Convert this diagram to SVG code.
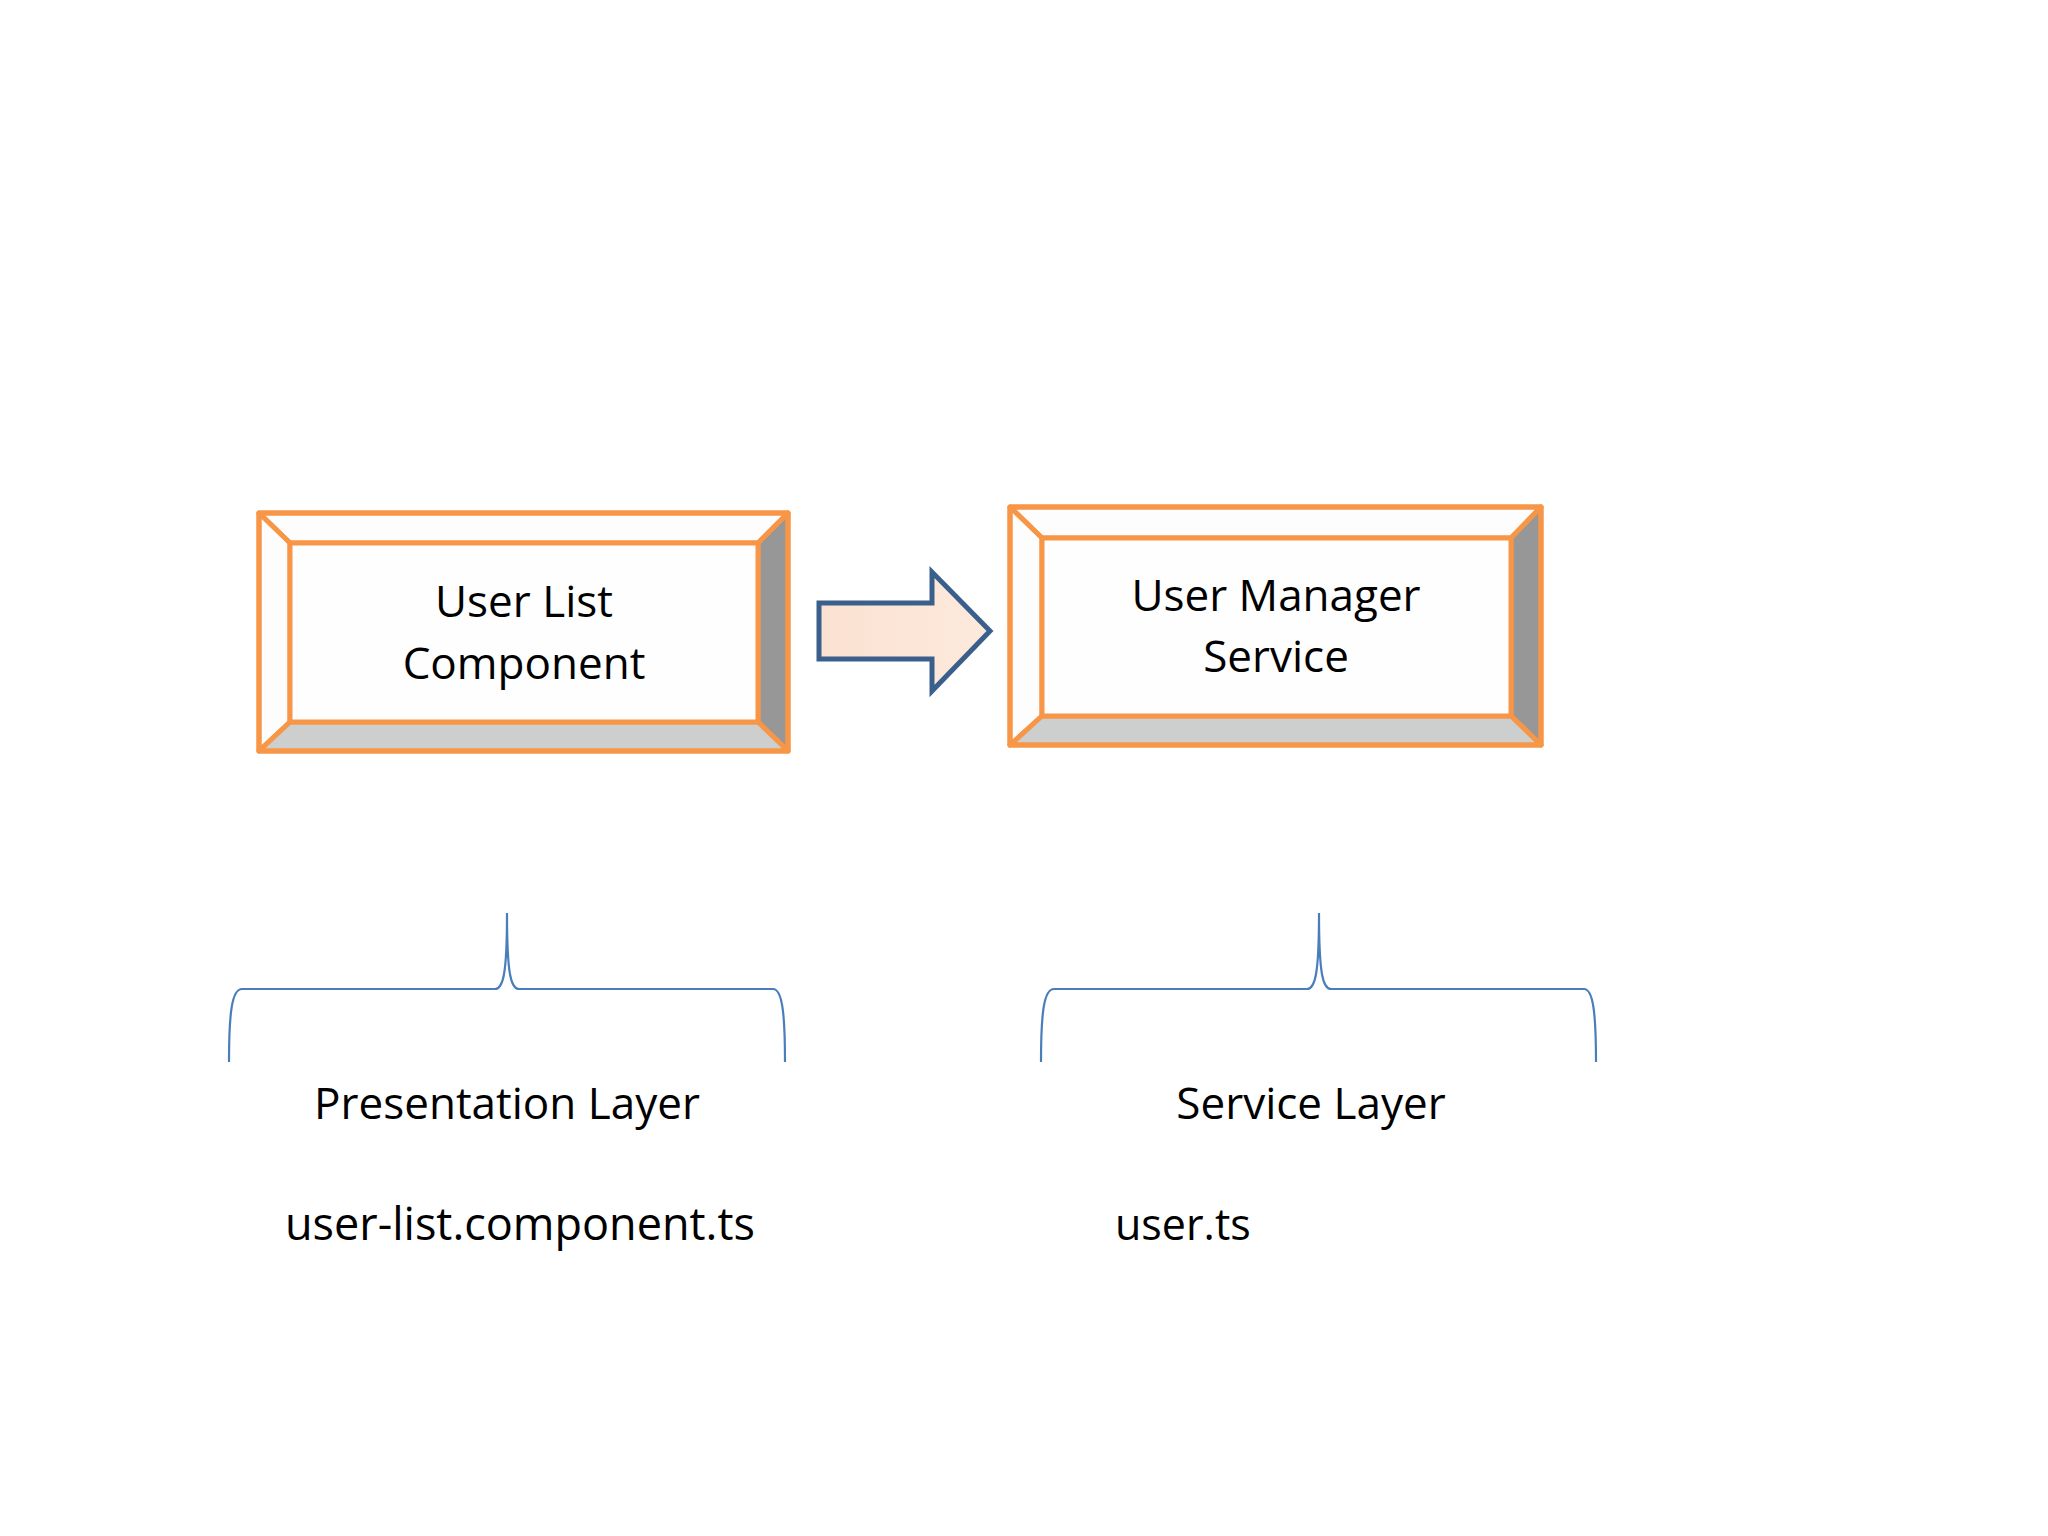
<svg xmlns="http://www.w3.org/2000/svg" width="2048" height="1536" viewBox="0 0 2048 1536">
  <defs>
    <linearGradient id="arrowFill" x1="0" y1="0" x2="1" y2="0">
      <stop offset="0" stop-color="#FBE1D2"/>
      <stop offset="1" stop-color="#FDEADC"/>
    </linearGradient>
    <style>
      .edge { stroke: #F79646; stroke-width: 5; stroke-linejoin: round; }
      .face { fill: #FEFEFE; }
      .lite { fill: #FDFDFD; }
      .dark { fill: #979797; }
      .low { fill: #CDCFCF; }
      .lbl { font-family: "Open Sans", "Noto Sans", sans-serif; font-size: 44px; fill: #000; }
      .brace { fill: none; stroke: #4A7EBB; stroke-width: 2.2; }
    </style>
  </defs>
  <rect width="2048" height="1536" fill="#FFFFFF"/>

  <g id="node-user-list-component">
    <polygon class="lite edge" points="259,513 788,513 758,543 290,543"/>
    <polygon class="lite edge" points="259,513 290,543 290,722 259,751"/>
    <polygon class="dark edge" points="788,513 788,751 758,722 758,543"/>
    <polygon class="low edge" points="259,751 290,722 758,722 788,751"/>
    <rect class="face edge" x="290" y="543" width="468" height="179"/>
    <rect x="259" y="513" width="529" height="238" fill="none" class="edge"/>
    <text class="lbl" x="524" y="617" text-anchor="middle">User List</text>
    <text class="lbl" x="524" y="679" text-anchor="middle">Component</text>
  </g>

  <g id="node-user-manager-service">
    <polygon class="lite edge" points="1010,507 1541,507 1511,538 1042,538"/>
    <polygon class="lite edge" points="1010,507 1042,538 1042,716 1010,745"/>
    <polygon class="dark edge" points="1541,507 1541,745 1511,716 1511,538"/>
    <polygon class="low edge" points="1010,745 1042,716 1511,716 1541,745"/>
    <rect class="face edge" x="1042" y="538" width="469" height="178"/>
    <rect x="1010" y="507" width="531" height="238" fill="none" class="edge"/>
    <text class="lbl" x="1276" y="611" text-anchor="middle">User Manager</text>
    <text class="lbl" x="1276" y="672" text-anchor="middle">Service</text>
  </g>

  <g id="connectors">
    <polygon id="arrow" points="819,603 932,603 932,572 990,631 932,691 932,659 819,659" fill="url(#arrowFill)" stroke="#3A5F8C" stroke-width="5" stroke-linejoin="miter"/>
  </g>

  <g id="brace-presentation">
    <path class="brace" d="M229,1062 C229,1012 232,989 242,989 L495,989 C503,989 507,975 507,913 C507,975 511,989 519,989 L773,989 C782,989 785,1012 785,1062"/>
    <text class="lbl" x="507" y="1119" text-anchor="middle">Presentation Layer</text>
    <text class="lbl" x="285" y="1240" style="font-size:45px">user-list.component.ts</text>
  </g>

  <g id="brace-service">
    <path class="brace" d="M1041,1062 C1041,1012 1044,989 1054,989 L1307,989 C1315,989 1319,975 1319,913 C1319,975 1323,989 1331,989 L1584,989 C1593,989 1596,1012 1596,1062"/>
    <text class="lbl" x="1311" y="1119" text-anchor="middle">Service Layer</text>
    <text class="lbl" x="1115" y="1240" style="font-size:43px">user.ts</text>
  </g>
</svg>
